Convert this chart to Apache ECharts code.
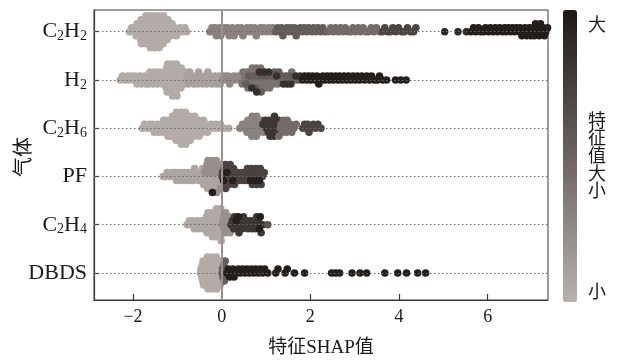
<!DOCTYPE html>
<html>
<head>
<meta charset="utf-8">
<script src="https://cdn.jsdelivr.net/npm/echarts@6/dist/echarts.min.js"></script>
<style>
html, body { margin: 0; padding: 0; background: #fff; }
#chart { width: 618px; height: 363px; }
</style>
</head>
<body>
<div id="chart"></div>
<script>
// features, bottom row first
var features = ["DBDS", "C2H4", "PF", "C2H6", "H2", "C2H2"];
var xTicks = [-2, 0, 2, 4, 6];

// each row: [feature value (0 = small, 1 = large), SHAP values]
var rowC2H2 = [
	[0.04, [-2.08, -2.03, -1.98, -1.95, -1.93, -1.91, -1.89, -1.88, -1.86, -1.85, -1.83, -1.82, -1.81, -1.79, -1.78, -1.77, -1.75, -1.74, -1.73, -1.72, -1.71, -1.69, -1.68, -1.67, -1.66, -1.65, -1.64, -1.63, -1.62, -1.61, -1.59, -1.58, -1.57, -1.56, -1.55, -1.54, -1.53, -1.52, -1.51, -1.49, -1.48, -1.47, -1.46, -1.45, -1.44, -1.43, -1.42, -1.41, -1.39, -1.38, -1.37, -1.35, -1.34, -1.33, -1.32, -1.31, -1.29, -1.27, -1.26, -1.24, -1.23, -1.21, -1.18, -1.16, -1.14, -1.12, -1.08, -1.05, -1.02, -0.97, -0.93, -0.88, -0.83, -0.79]],
	[0.3, [-0.27, -0.22, -0.19, -0.15, -0.12, -0.08, -0.05, -0.02, 0.03, 0.06, 0.11, 0.13, 0.17, 0.21, 0.24, 0.28, 0.33, 0.36, 0.41, 0.44, 0.48, 0.53, 0.57, 0.62, 0.65, 0.71, 0.74, 0.78, 0.83, 0.87, 0.92, 0.95, 1.02, 1.06, 1.12, 1.15]],
	[0.55, [1.22, 1.26, 1.31, 1.35, 1.38, 1.43, 1.47, 1.52, 1.55, 1.61, 1.64, 1.68, 1.73, 1.77, 1.82, 1.86, 1.92, 1.96, 2.03, 2.07, 2.12, 2.17, 2.23, 2.28, 2.34]],
	[0.45, [2.41, 2.46, 2.52, 2.57, 2.63, 2.68, 2.74, 2.79, 2.85, 2.91, 2.96, 3.02, 3.08, 3.13, 3.19, 3.25, 3.31, 3.37, 3.43, 3.49, 3.56]],
	[0.7, [3.62, 3.68, 3.74, 3.81, 3.86, 3.93, 3.99, 4.06, 4.12, 4.19, 4.26, 4.33, 4.38]],
	[0.9, [5.03, 5.33, 5.52]],
	[0.97, [5.62, 5.68, 5.73, 5.79, 5.84, 5.91, 5.95, 6.02, 6.06, 6.12, 6.17, 6.22, 6.27, 6.33, 6.38, 6.42, 6.47, 6.52, 6.56, 6.61, 6.65, 6.71, 6.73, 6.77, 6.81, 6.84, 6.88, 6.91, 6.94, 6.97, 7.01, 7.03, 7.05, 7.08, 7.11, 7.13, 7.16, 7.19, 7.22, 7.25, 7.28, 7.31, 7.35, 7.4]]
];
var rowH2 = [
	[0.04, [-2.29, -2.24, -2.18, -2.13, -2.09, -2.04, -1.99, -1.95, -1.91, -1.88, -1.84, -1.81, -1.77, -1.74, -1.71, -1.69, -1.67, -1.65, -1.62, -1.59, -1.57, -1.55, -1.52, -1.49, -1.47, -1.45, -1.42, -1.39, -1.37, -1.35, -1.32, -1.29, -1.28, -1.27, -1.26, -1.25, -1.24, -1.23, -1.22, -1.19, -1.18, -1.17, -1.16, -1.15, -1.14, -1.13, -1.12, -1.11, -1.09, -1.08, -1.07, -1.06, -1.05, -1.04, -1.03, -1.02, -1.01, -0.99, -0.97, -0.95, -0.94, -0.92, -0.91, -0.89, -0.86, -0.84, -0.82]],
	[0.1, [-0.79, -0.77, -0.75, -0.72, -0.69, -0.66, -0.63, -0.59, -0.57, -0.54, -0.52, -0.49, -0.46, -0.43, -0.39, -0.36, -0.33, -0.31, -0.28, -0.25, -0.22, -0.18, -0.15, -0.12, -0.09, -0.06, -0.03]],
	[0.25, [0.02, 0.06, 0.11, 0.14, 0.18, 0.23, 0.27, 0.31, 0.36, 0.41, 0.44]],
	[0.4, [0.46, 0.48, 0.51, 0.53, 0.57, 0.59, 0.61, 0.64, 0.66, 0.69, 0.71, 0.74, 0.75, 0.78, 0.81, 0.83, 0.86, 0.88, 0.91, 0.94, 0.97, 1.01, 1.04, 1.08, 1.12, 1.17, 1.22, 1.26, 1.33, 1.42, 1.51, 1.58]],
	[0.55, [0.55, 0.62, 0.72, 0.77, 0.82, 0.89, 0.93, 1.03, 1.14, 1.19, 1.29, 1.36, 1.45, 1.53, 1.63, 1.72]],
	[0.85, [0.68, 0.79, 0.85, 0.96, 1.06, 1.24, 1.39, 1.48, 1.56, 1.67, 1.77]],
	[0.96, [1.82, 1.87, 1.92, 1.96, 2.01, 2.05, 2.11, 2.15, 2.19, 2.24, 2.28, 2.33, 2.38, 2.43, 2.47, 2.52, 2.57, 2.62, 2.66, 2.71, 2.76, 2.81, 2.86, 2.91, 2.96, 3.01, 3.06, 3.11, 3.16, 3.22, 3.27, 3.33, 3.38, 3.44, 3.51, 3.56, 3.63, 3.72, 3.92, 4.04, 4.16]]
];
var rowC2H6 = [
	[0.04, [-1.79, -1.74, -1.68, -1.63, -1.59, -1.56, -1.52, -1.49, -1.45, -1.42, -1.39, -1.36, -1.34, -1.31, -1.29, -1.27, -1.25, -1.23, -1.21, -1.19, -1.18, -1.16, -1.14, -1.13, -1.11, -1.09, -1.08, -1.07, -1.06, -1.05, -1.04, -1.03, -1.02, -0.99, -0.98, -0.97, -0.96, -0.95, -0.94, -0.93, -0.92, -0.91, -0.89, -0.88, -0.87, -0.86, -0.85, -0.84, -0.83, -0.82, -0.81, -0.79, -0.78, -0.76, -0.75, -0.74, -0.72, -0.71, -0.69, -0.67, -0.66, -0.64, -0.62, -0.61, -0.59, -0.57, -0.55, -0.53, -0.51, -0.49, -0.46, -0.44, -0.41, -0.38, -0.35, -0.32, -0.28, -0.23, -0.18, -0.13, -0.08, -0.03, 0.06, 0.16]],
	[0.3, [0.41, 0.47, 0.52, 0.54, 0.57, 0.59, 0.61, 0.62, 0.64, 0.66, 0.68, 0.69, 0.71, 0.72, 0.74, 0.76, 0.78, 0.79, 0.81, 0.83, 0.85, 0.88, 0.91, 0.95]],
	[0.8, [0.93, 0.98, 1.01, 1.03, 1.05, 1.07, 1.09, 1.11, 1.12, 1.14, 1.16, 1.18, 1.19, 1.22, 1.24, 1.26, 1.28]],
	[0.45, [1.29, 1.32, 1.34, 1.37, 1.39, 1.42, 1.44, 1.46, 1.48, 1.52, 1.55, 1.58, 1.63, 1.68]],
	[0.7, [1.83, 1.87, 1.91, 1.94, 1.97, 2.02, 2.07, 2.12, 2.17, 2.24]]
];
var rowPF = [
	[0.08, [-1.32, -1.28, -1.23, -1.17, -1.12, -1.08, -1.05, -1.02, -0.98, -0.95, -0.92, -0.88, -0.85, -0.82, -0.78, -0.75, -0.72, -0.69, -0.67, -0.64, -0.61, -0.58, -0.55, -0.52, -0.49, -0.47, -0.45, -0.43, -0.41, -0.39, -0.36, -0.34, -0.32, -0.29, -0.27, -0.25, -0.23, -0.19, -0.17, -0.15, -0.13, -0.09, -0.07, -0.05]],
	[0.22, [-0.38, -0.35, -0.33, -0.31, -0.28, -0.26, -0.24, -0.22, -0.18, -0.16, -0.14, -0.12, -0.11, -0.08, -0.06, -0.03, -0.02]],
	[0.98, [-0.21]],
	[0.72, [0.01, 0.02, 0.05, 0.07, 0.08, 0.09, 0.11, 0.14, 0.16, 0.17, 0.19, 0.21, 0.23, 0.27, 0.29, 0.32, 0.35, 0.38, 0.42, 0.45, 0.48, 0.51, 0.54, 0.56, 0.58, 0.61, 0.63, 0.67, 0.69, 0.71, 0.73, 0.77, 0.79, 0.81, 0.83, 0.87, 0.89, 0.92, 0.96]],
	[0.95, [0.04, 0.12, 0.25, 0.65, 0.75, 0.85]]
];
var rowC2H4 = [
	[0.06, [-0.78, -0.73, -0.68, -0.65, -0.62, -0.58, -0.55, -0.52, -0.48, -0.45, -0.42, -0.39, -0.38, -0.36, -0.34, -0.33, -0.31, -0.29, -0.28, -0.27, -0.25, -0.24, -0.22, -0.21, -0.19, -0.18, -0.17, -0.16, -0.15, -0.14, -0.13, -0.12, -0.09, -0.08, -0.07, -0.06, -0.05, -0.04, -0.03, -0.02, -0.01]],
	[0.22, [0.01, 0.03, 0.05, 0.06, 0.08, 0.09, 0.11, 0.13, 0.15, 0.17, 0.19]],
	[0.8, [0.21, 0.24, 0.27, 0.29, 0.31, 0.35, 0.39, 0.42, 0.45, 0.47, 0.49, 0.53, 0.56, 0.59, 0.62, 0.65, 0.68, 0.71, 0.74, 0.76, 0.79, 0.81, 0.83, 0.89, 0.93]],
	[0.96, [0.33, 0.37, 0.85, 0.87]],
	[0.6, [1.04]]
];
var rowDBDS = [
	[0.04, [-0.48, -0.47, -0.45, -0.44, -0.43, -0.42, -0.41, -0.39, -0.38, -0.37, -0.36, -0.35, -0.34, -0.33, -0.32, -0.31, -0.29, -0.28, -0.27, -0.26, -0.25, -0.24, -0.23, -0.22, -0.21, -0.19, -0.18, -0.17, -0.16, -0.15, -0.14, -0.13, -0.12, -0.11, -0.09, -0.08, -0.07, -0.06, -0.05, -0.04, -0.03]],
	[0.55, [0.01, 0.02, 0.03, 0.05, 0.06, 0.08]],
	[0.96, [0.12, 0.15, 0.18, 0.22, 0.25, 0.28, 0.33, 0.37, 0.42, 0.47, 0.52, 0.57, 0.62, 0.67, 0.72, 0.77, 0.82, 0.87, 0.92, 0.97, 1.04, 1.22, 1.27, 1.43, 1.48, 1.64, 1.87, 2.48, 2.57, 2.66, 2.94, 3.12, 3.27, 3.68, 3.97, 4.17, 4.42, 4.6]]
];
var rows = [rowDBDS, rowC2H4, rowPF, rowC2H6, rowH2, rowC2H2];

// beeswarm offsets: points sharing a bin are stacked alternately up and down
var BIN = 0.1;
var SPREAD = 0.33;
function swarm(groups, row) {
	var pts = [];
	groups.forEach(function (g) {
		g[1].forEach(function (x) { pts.push({ x: x, f: g[0] }); });
	});
	var order = pts.slice().sort(function (a, b) { return a.x - b.x; });
	var lastBin = null, layer = 0, maxK = 0;
	order.forEach(function (p) {
		var b = Math.floor(p.x / BIN + 1e-9);
		if (b !== lastBin) { layer = 0; lastBin = b; }
		p.k = Math.ceil(layer / 2) * (layer % 2 ? 1 : -1);
		layer++;
		maxK = Math.max(maxK, Math.abs(p.k));
	});
	var step = maxK ? SPREAD / maxK : 0;
	return pts.map(function (p) { return [p.x, row + p.k * step, p.f]; });
}

function richName(name) {
	return name.replace(/([A-Z]+)/g, "{m|$1}").replace(/(\d)/g, "{s|$1}");
}

var serif = "Liberation Serif";
var cjk = "'Liberation Serif', 'Noto Sans CJK SC'";

var series = rows.map(function (groups, i) {
	return {
		type: "scatter",
		name: features[i],
		data: swarm(groups, i),
		symbolSize: 7.5,
		clip: true,
		z: 3,
		itemStyle: { opacity: 1 }
	};
});
// dotted row lines
series.push({
	type: "scatter",
	data: [],
	z: 1,
	markLine: {
		silent: true,
		symbol: "none",
		label: { show: false },
		animation: false,
		lineStyle: { color: "#6b6b6b", width: 1, type: [1.5, 2.5] },
		data: features.map(function (f, i) { return { yAxis: i }; })
	}
});
// zero line
series.push({
	type: "scatter",
	data: [],
	z: 5,
	markLine: {
		silent: true,
		symbol: "none",
		label: { show: false },
		animation: false,
		lineStyle: { color: "#9b928f", width: 2, type: "solid" },
		data: [{ xAxis: 0 }]
	}
});

var chart = echarts.init(document.getElementById("chart"));
var option = {
	animation: false,
	grid: {
		left: 94, right: 70, top: 10, bottom: 63,
		containLabel: false,
		outerBoundsMode: "none",
		show: true, borderColor: "#3a3a3a", borderWidth: 1
	},
	xAxis: {
		type: "value",
		min: -2.88,
		max: 7.36,
		axisLine: { onZero: false, lineStyle: { color: "#3a3a3a", width: 1.2 } },
		axisTick: { inside: true, length: 6, customValues: xTicks, lineStyle: { color: "#3a3a3a", width: 1.2 } },
		axisLabel: {
			customValues: xTicks,
			formatter: function (v) { return String(v).replace("-", "\u2212"); },
			fontFamily: serif, fontSize: 18, color: "#1a1a1a", margin: 8
		},
		splitLine: { show: false },
		name: "特征SHAP值",
		nameLocation: "middle",
		nameGap: 39,
		nameTextStyle: { fontFamily: cjk, fontSize: 19, color: "#1a1a1a" }
	},
	yAxis: {
		type: "value",
		min: -0.56,
		max: 5.45,
		axisLine: { onZero: false, lineStyle: { color: "#3a3a3a", width: 1.2 } },
		axisTick: { inside: true, length: 5, customValues: [0, 1, 2, 3, 4, 5], lineStyle: { color: "#3a3a3a", width: 1.2 } },
		axisLabel: {
			customValues: [0, 1, 2, 3, 4, 5],
			formatter: function (v) { return richName(features[v]); },
			margin: 7,
			rich: {
				m: { fontFamily: serif, fontSize: 22, color: "#1a1a1a" },
				s: { fontFamily: serif, fontSize: 14, color: "#1a1a1a", padding: [10, 0, 0, 0] }
			}
		},
		splitLine: { show: false }
	},
	visualMap: {
		type: "continuous",
		min: 0,
		max: 1,
		dimension: 2,
		seriesIndex: [0, 1, 2, 3, 4, 5],
		orient: "vertical",
		left: 563,
		top: 10,
		padding: 0,
		itemWidth: 14,
		itemHeight: 292,
		calculable: false,
		hoverLink: false,
		inRange: { color: ["#b9b1ae", "#6c6360", "#1e1917"] }
	},
	graphic: [
		{
			type: "text", x: 22, y: 157, rotation: Math.PI / 2,
			style: { text: "气体", font: "20px 'Noto Sans CJK SC'", fill: "#1a1a1a", align: "center", verticalAlign: "middle" }
		},
		{ type: "text", left: 588, top: 15, style: { text: "大", font: "18px 'Noto Sans CJK SC'", fill: "#1a1a1a" } },
		{ type: "text", left: 588, top: 111, style: { text: "特\n征\n值\n大\n小", font: "18px 'Noto Sans CJK SC'", lineHeight: 17.6, fill: "#1a1a1a" } },
		{ type: "text", left: 588, top: 282, style: { text: "小", font: "18px 'Noto Sans CJK SC'", fill: "#1a1a1a" } }
	],
	series: series
};
chart.setOption(option);
window.addEventListener("resize", chart.resize);
</script>
</body>
</html>
